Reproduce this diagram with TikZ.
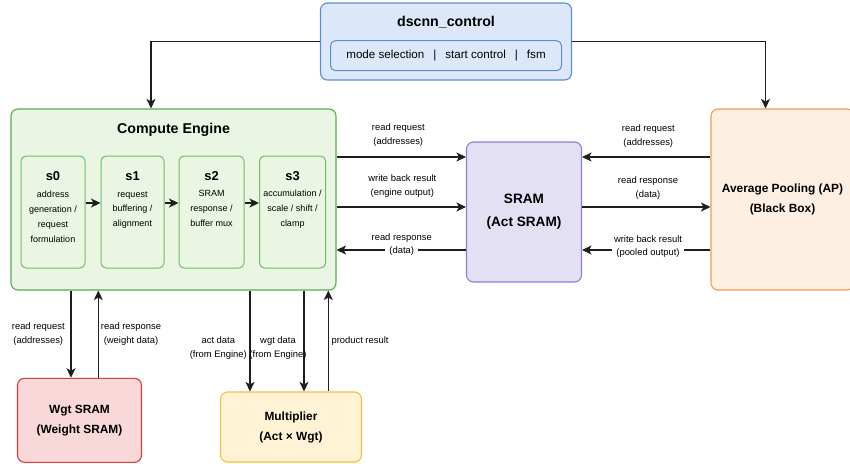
\documentclass[tikz,border=0pt]{standalone}
\usepackage{fontspec}
\setmainfont{Liberation Sans}
\usetikzlibrary{arrows.meta,positioning}

\definecolor{ctrlfill}{HTML}{DCE8FA}
\definecolor{ctrldraw}{HTML}{5B8DD6}
\definecolor{cefill}{HTML}{EAF5E4}
\definecolor{cedraw}{HTML}{5DAA52}
\definecolor{stagedraw}{HTML}{6DBF60}
\definecolor{sramfill}{HTML}{E4E0F4}
\definecolor{sramdraw}{HTML}{8C80D4}
\definecolor{apfill}{HTML}{FDEFE1}
\definecolor{apdraw}{HTML}{F39A55}
\definecolor{wgtfill}{HTML}{F8D8D8}
\definecolor{wgtdraw}{HTML}{D6403B}
\definecolor{mulfill}{HTML}{FFF2D5}
\definecolor{muldraw}{HTML}{F6BE45}
\definecolor{wire}{HTML}{1E1E1E}

\tikzset{
  box/.style={draw, rounded corners=7pt, line width=1.1pt, inner sep=0pt, align=center},
  stagebox/.style={box, draw=stagedraw, fill=cefill, rounded corners=5pt, line width=1pt,
    minimum height=112pt},
  titletxt/.style={inner sep=0pt, font=\fontsize{14.2}{17}\selectfont\bfseries},
  stagetitle/.style={inner sep=0pt, font=\fontsize{12.9}{15}\selectfont\bfseries},
  stagetext/.style={inner sep=0pt, align=center, anchor=north, font=\fontsize{9}{14.8}\selectfont},
  blocktxt/.style={font=\fontsize{11.9}{20}\selectfont\bfseries},
  lbl/.style={inner sep=0pt, align=center, font=\fontsize{9.4}{14}\selectfont},
  gap/.style={lbl, fill=white, inner xsep=4pt, inner ysep=1pt},
  arr/.style={draw=wire, line width=1.2pt,
    -{Stealth[length=9.5pt,width=9pt,inset=2.5pt]}}
}

\begin{document}
\begin{tikzpicture}[x=1pt,y=-1pt]
    \fill[white] (0,0) rectangle (850,463);
    \useasboundingbox (0,0) rectangle (850,463);

    % Control
    \node[box, draw=ctrldraw, fill=ctrlfill, minimum width=251pt, minimum height=77pt] (ctrl) at (446,41.5) {};
    \node[titletxt] (ctrlt) at (446,22.5) {dscnn\_control};
    \node[box, draw=ctrldraw, fill=ctrlfill, rounded corners=5pt, line width=1pt,
        minimum width=231pt, minimum height=30pt, font=\fontsize{11.6}{14}\selectfont] (mode) at (446,55.7)
        {mode selection\hspace{9pt}|\hspace{9pt}start control\hspace{9pt}|\hspace{9pt}fsm};

    % Compute engine
    \node[box, draw=cedraw, fill=cefill, minimum width=325pt, minimum height=181pt] (ce) at (173.5,199.5) {};
    \node[titletxt] (cet) at (173.5,130) {Compute Engine};

    % Stages
    \node[stagebox, minimum width=64pt] (s0) at (53,212) {};
    \node[stagebox, minimum width=63pt] (s1) at (132.5,212) {};
    \node[stagebox, minimum width=65pt] (s2) at (211.5,212) {};
    \node[stagebox, minimum width=66pt] (s3) at (292.5,212) {};
    \node[stagetitle] (s0t) at (53,176) {s0};
    \node[stagetitle] (s1t) at (132.5,176) {s1};
    \node[stagetitle] (s2t) at (211.5,176) {s2};
    \node[stagetitle] (s3t) at (292.5,176) {s3};
    \node[stagetext] (s0d) at (53,191) {address\\generation /\\request\\formulation};
    \node[stagetext] (s1d) at (132.5,191) {request\\buffering /\\alignment};
    \node[stagetext] (s2d) at (211.5,190) {SRAM\\response /\\buffer mux};
    \node[stagetext] (s3d) at (292.5,190) {accumulation /\\scale / shift /\\clamp};
    \draw[arr] ([yshift=9pt]s0.east) -- ([yshift=9pt]s1.west);
    \draw[arr] ([yshift=9pt]s1.east) -- ([yshift=9pt]s2.west);
    \draw[arr] ([yshift=9pt]s2.east) -- ([yshift=9pt]s3.west);

    % Other blocks
    \node[box, draw=sramdraw, fill=sramfill, minimum width=115pt, minimum height=140pt,
        font=\fontsize{13.6}{23}\selectfont\bfseries] (sram) at (524,212) {SRAM\\(Act SRAM)};
    \node[box, blocktxt, draw=apdraw, fill=apfill, minimum width=143pt, minimum height=181pt] (ap) at (782.5,199.5)
        {Average Pooling (AP)\\(Black Box)};
    \node[box, blocktxt, draw=wgtdraw, fill=wgtfill, minimum width=124pt, minimum height=84pt] (wgt) at (79.5,420.3)
        {Wgt SRAM\\(Weight SRAM)};
    \node[box, blocktxt, draw=muldraw, fill=mulfill, minimum width=141pt, minimum height=70pt] (mul) at (291,427)
        {Multiplier\\(Act × Wgt)};

    % Control lines
    \draw[arr] (ctrl.west) -| ([xshift=-22.5pt]ce.north);
    \draw[arr] (ctrl.east) -| ([xshift=-17pt]ap.north);

    % Act SRAM ports
    \coordinate (rq) at (0,157);
    \coordinate (wb) at (0,207);
    \coordinate (rs) at (0,250);
    \draw[arr] (ce.east |- rq) -- (sram.west |- rq);
    \draw[arr] (ce.east |- wb) -- (sram.west |- wb);
    \draw[arr] (sram.west |- rs) -- (ce.east |- rs);
    \draw[arr] (ap.west |- rq) -- (sram.east |- rq);
    \draw[arr] (sram.east |- wb) -- (ap.west |- wb);
    \draw[arr] (ap.west |- rs) -- (sram.east |- rs);
    \node[lbl] (l1) at (398.3,135.5) {read request\\(addresses)};
    \node[lbl] (l2) at (402.3,186) {write back result\\(engine output)};
    \node[lbl] (l3) at (401.7,238.3) {read response};
    \node[gap] (l3b) at (401.7,251.5) {(data)};
    \node[lbl] (r1) at (648.3,136) {read request\\(addresses)};
    \node[lbl] (r2) at (648,188) {read response\\(data)};
    \node[lbl] (r3) at (648,239.5) {write back result};
    \node[gap] (r3b) at (648,253) {(pooled output)};

    % Weight SRAM and multiplier
    \coordinate (v1) at (71,0);
    \coordinate (v2) at (98.3,0);
    \coordinate (v3) at (250,0);
    \coordinate (v4) at (304,0);
    \coordinate (v5) at (328.3,0);
    \draw[arr] (ce.south -| v1) -- (wgt.north -| v1);
    \draw[arr] (wgt.north -| v2) -- (ce.south -| v2);
    \draw[arr] (ce.south -| v3) -- (mul.north -| v3);
    \draw[arr] (ce.south -| v4) -- (mul.north -| v4);
    \draw[arr] (mul.north -| v5) -- (ce.south -| v5);
    \node[lbl] (b1) at (38.3,334.3) {read request\\(addresses)};
    \node[lbl] (b2) at (131,334.3) {read response\\(weight data)};
    \node[lbl] (b3) at (218.3,348.3) {act data\\(from Engine)};
    \node[lbl] (b4) at (278,348.3) {wgt data\\(from Engine)};
    \node[lbl] (b5) at (360,341) {product result};

\end{tikzpicture}
\end{document}
